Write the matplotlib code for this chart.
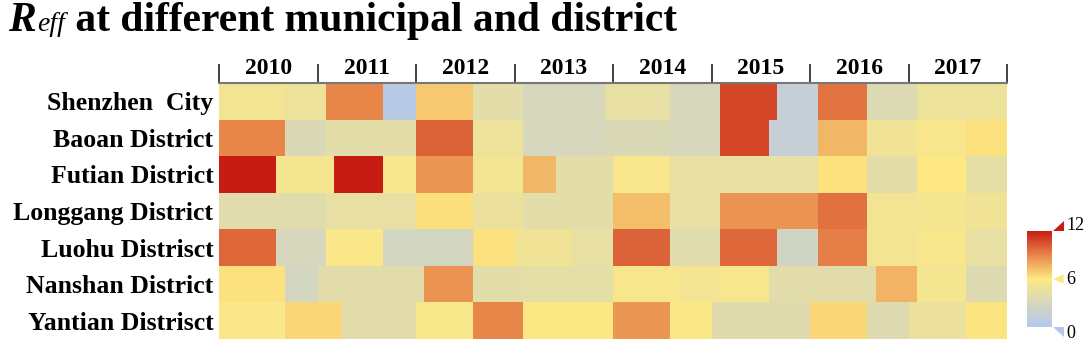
"""Reff heatmap by district, half-monthly blocks 2010-2017"""
import numpy as np
import matplotlib
matplotlib.use("Agg")
import matplotlib.pyplot as plt
from matplotlib.colors import LinearSegmentedColormap
from matplotlib.patches import Polygon
from matplotlib.transforms import blended_transform_factory

YEARS = [2010, 2011, 2012, 2013, 2014, 2015, 2016, 2017]
DISTRICTS = ["Shenzhen  City", "Baoan District", "Futian District",
             "Longgang District", "Luohu Distrisct", "Nanshan District",
             "Yantian Distrisct"]

# runs of (end month counted from Jan 2010, Reff value)
SHENZHEN = [(8, 5.2), (13, 4.8), (20, 9.0), (24, 0.5), (31, 7.0), (37, 4.0),
            (47, 3.0), (55, 4.3), (61, 3.0), (68, 10.8), (73, 1.5), (79, 9.5),
            (85, 3.5), (96, 4.8)]
BAOAN = [(8, 9.0), (13, 3.4), (24, 4.0), (31, 10.0), (37, 4.8), (47, 3.0),
         (55, 3.3), (61, 3.0), (67, 10.8), (73, 1.5), (79, 7.5), (85, 5.0),
         (91, 5.5), (96, 6.2)]
FUTIAN = [(7, 12.0), (14, 5.3), (20, 12.0), (24, 5.5), (31, 8.5), (37, 5.2),
          (41, 7.5), (48, 4.0), (55, 5.5), (73, 4.3), (79, 6.2), (85, 4.0),
          (91, 6.0), (96, 4.2)]
LONGGANG = [(13, 3.8), (24, 4.3), (31, 6.3), (37, 4.6), (48, 4.0), (55, 7.3),
            (61, 4.3), (73, 8.6), (79, 9.6), (85, 5.2), (91, 5.3), (96, 5.0)]
LUOHU = [(7, 9.8), (13, 3.0), (20, 5.7), (31, 2.8), (36, 6.2), (43, 5.0),
         (48, 4.4), (55, 10.0), (61, 3.8), (68, 9.8), (73, 2.5), (79, 9.2),
         (85, 5.2), (91, 5.5), (96, 4.4)]
NANSHAN = [(8, 6.2), (12, 2.8), (25, 3.9), (31, 8.6), (37, 4.0), (48, 4.1),
           (56, 5.5), (61, 5.2), (67, 5.5), (80, 3.9), (85, 7.6), (91, 5.3),
           (96, 3.6)]
YANTIAN = [(8, 5.7), (15, 6.6), (24, 3.9), (31, 5.6), (37, 9.0), (48, 5.9),
           (55, 8.5), (60, 5.8), (72, 3.7), (79, 6.6), (84, 3.6), (91, 4.6),
           (96, 6.1)]
ROWS = [SHENZHEN, BAOAN, FUTIAN, LONGGANG, LUOHU, NANSHAN, YANTIAN]


def expand(runs, n=96):
    out = np.zeros(n)
    start = 0
    for end, val in runs:
        out[start:end] = val
        start = end
    return out


if __name__ == "__main__":
    plt.rcParams['font.family'] = ['Liberation Serif', 'DejaVu Serif']

    grid = np.array([expand(r) for r in ROWS])
    x_edges = YEARS[0] + np.arange(grid.shape[1] + 1) / 12
    y_edges = np.arange(len(ROWS) + 1)

    cmap = LinearSegmentedColormap.from_list(
        "reff", [(0, '#b3c7ee'), (0.25, '#d6d7bc'), (0.5, '#fde983'),
                 (0.75, '#e8864a'), (1.0, '#c61c12')])

    fig = plt.figure(figsize=(10.84, 3.45), dpi=100)
    ax = fig.add_axes([219 / 1084, 1 - 339 / 345, 788 / 1084, 256 / 345])
    mesh = ax.pcolormesh(x_edges, y_edges, grid, cmap=cmap, vmin=0, vmax=12)
    ax.set_xlim(YEARS[0], YEARS[-1] + 1)
    ax.set_ylim(len(ROWS), 0)

    # year axis on top
    ax.xaxis.tick_top()
    ax.set_xticks(YEARS + [YEARS[-1] + 1])
    ax.set_xticklabels([])
    ax.set_xticks(np.array(YEARS) + 0.5, minor=True)
    ax.set_xticklabels([str(y) for y in YEARS], minor=True,
                       fontsize=17, fontweight='bold')
    ax.tick_params(axis='x', which='major', length=14, width=1.2,
                   direction='out', color='#222222')
    ax.tick_params(axis='x', which='minor', length=0, pad=3)

    ax.set_yticks(np.arange(len(ROWS)) + 0.5)
    ax.set_yticklabels(DISTRICTS, fontsize=18.5, fontweight='bold')
    ax.tick_params(axis='y', length=0, pad=4)
    for s in ['left', 'right', 'bottom']:
        ax.spines[s].set_visible(False)
    ax.spines['top'].set_color('#777777')
    ax.spines['top'].set_linewidth(1.5)

    # title: R with smaller italic "eff"
    renderer = fig.canvas.get_renderer()
    base = 1 - 31 / 345
    t1 = fig.text(8 / 1084, base, "R", fontsize=30,
                  fontweight='bold', fontstyle='italic')
    x = t1.get_window_extent(renderer).x1 / fig.bbox.width
    t2 = fig.text(x + 0.001, base, "eff", fontsize=20, fontstyle='italic')
    x = t2.get_window_extent(renderer).x1 / fig.bbox.width
    fig.text(x, base, " at different municipal and district",
             fontsize=30, fontweight='bold')

    # colorbar
    cax = fig.add_axes([1027 / 1084, 1 - 327 / 345, 25 / 1084, 96 / 345])
    cb = fig.colorbar(mesh, cax=cax, ticks=[])
    cb.outline.set_visible(False)
    trans = blended_transform_factory(cax.transAxes, cax.transData)
    tri = {12: [(1.04, 12), (1.46, 12), (1.46, 13.3)],
           6: [(1.04, 6), (1.46, 6.6), (1.46, 5.4)],
           0: [(1.04, 0), (1.46, 0), (1.46, -1.3)]}
    for v, pts in tri.items():
        cax.add_patch(Polygon(pts, closed=True, transform=trans,
                              facecolor=cmap(v / 12), edgecolor='none',
                              clip_on=False))
    for v, yy in [(12, 12.7), (6, 6), (0, -0.8)]:
        cax.text(1.58, yy, str(v), transform=trans, fontsize=13,
                 va='center', ha='left')

    fig.savefig("out.png", dpi=100)
